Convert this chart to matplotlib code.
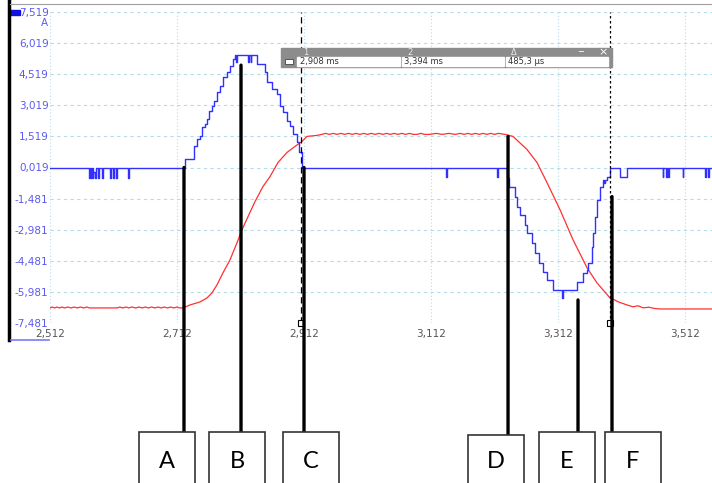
import matplotlib
matplotlib.use("Agg")
import matplotlib.pyplot as plt
from matplotlib.patches import Rectangle, ConnectionPatch
from matplotlib.transforms import blended_transform_factory

# current trace (A) - blue
blue_t = [2.512, 2.5734, 2.5745, 2.5766, 2.5776, 2.5797, 2.5805, 2.5829, 2.5840,
          2.5876, 2.5886, 2.5939, 2.5949, 2.6065, 2.6075, 2.6112, 2.6122, 2.6159,
          2.6169, 2.6348, 2.6358,
          2.7246, 2.7278, 2.7388, 2.7435, 2.7482, 2.7514, 2.7561, 2.7592, 2.7624,
          2.7671, 2.7703, 2.7750, 2.7797, 2.7844, 2.7907, 2.7955, 2.8002, 2.8033,
          2.8050, 2.8060, 2.8240, 2.8250, 2.8280, 2.8290,
          2.8380, 2.8506, 2.8537, 2.8616, 2.8695, 2.8742, 2.8789, 2.8852, 2.8900,
          2.8947, 2.9010, 2.9041, 2.9088,
          3.1356, 3.1366, 3.2159, 3.2169,
          3.2317, 3.2348, 3.2443, 3.2474, 3.2522, 3.2600, 3.2632, 3.2711, 3.2758,
          3.2821, 3.2884, 3.2947, 3.3041, 3.3183, 3.3195, 3.3419, 3.3514, 3.3577,
          3.3593, 3.3656, 3.3671, 3.3703, 3.3734, 3.3781, 3.3829, 3.3845, 3.3860,
          3.3892, 3.3939,
          3.4096, 3.4206, 3.4773, 3.4781, 3.4821, 3.4829, 3.4852, 3.4860, 3.5088,
          3.5096, 3.5435, 3.5443, 3.5482, 3.5490, 3.5545]
blue_i = [0.019, -0.465, 0.019, -0.465, 0.019, -0.465, -0.2, -0.465, 0.019,
          -0.465, 0.019, -0.465, 0.019, -0.465, 0.019, -0.465, 0.019, -0.465,
          0.019, -0.465, 0.019,
          0.406, 0.406, 1.035, 1.374, 1.519, 1.955, 2.100, 2.342, 2.729,
          2.971, 3.213, 3.648, 3.939, 4.374, 4.616, 4.906, 5.245, 5.439,
          5.10, 5.439, 5.10, 5.439, 5.10, 5.439,
          5.003, 4.616, 4.132, 3.793, 3.551, 2.971, 2.680, 2.245, 2.003,
          1.616, 1.229, 0.745, 0.019,
          -0.42, 0.019, -0.42, 0.019,
          -0.465, -0.900, -1.384, -1.868, -2.255, -2.739, -3.126, -3.610, -4.094,
          -4.578, -5.013, -5.400, -5.884, -6.271, -5.884, -5.497, -5.061, -4.916,
          -4.578, -3.803, -3.126, -2.352, -1.529, -0.900, -0.562, -0.75, -0.562,
          -0.416, 0.019,
          -0.46, 0.019, -0.46, 0.019, -0.46, 0.019, -0.46, 0.019, -0.46,
          0.019, -0.46, 0.019, -0.46, 0.019, 0.019]

# second trace - red
red_t = [2.512, 2.516, 2.519, 2.523, 2.527, 2.531, 2.535, 2.540, 2.545, 2.550,
         2.555, 2.560, 2.565, 2.570, 2.574, 2.578, 2.618, 2.622, 2.626, 2.632,
         2.636, 2.641, 2.647, 2.652, 2.657, 2.662, 2.667, 2.672, 2.677, 2.682,
         2.687, 2.692, 2.697, 2.702, 2.707, 2.712, 2.716, 2.7214,
         2.7325, 2.7482, 2.7592, 2.7671, 2.7750, 2.7844, 2.7955, 2.8065, 2.8144,
         2.8238, 2.8348, 2.8474, 2.8585, 2.8711, 2.8852, 2.8978, 2.9088, 2.9167,
         2.9325, 2.940, 2.946, 2.952, 2.958, 2.964, 2.970, 2.976, 2.982, 2.988,
         2.994, 3.000, 3.006, 3.012, 3.018, 3.024, 3.030, 3.036, 3.042, 3.048,
         3.054, 3.060, 3.066, 3.072, 3.078, 3.084, 3.090, 3.096, 3.102, 3.110,
         3.120, 3.130, 3.140, 3.150, 3.158, 3.164, 3.170, 3.176, 3.182, 3.188,
         3.194, 3.200, 3.206, 3.212, 3.218, 3.2285,
         3.2411, 3.2631, 3.2789, 3.2946, 3.3151, 3.3356, 3.3577, 3.3734, 3.3939,
         3.4000, 3.4060, 3.4206, 3.4300, 3.4380, 3.4460, 3.4550, 3.4640, 3.4726,
         3.5545]
red_v = [-6.755, -6.71, -6.755, -6.71, -6.755, -6.71, -6.755, -6.71, -6.755, -6.71,
         -6.755, -6.71, -6.755, -6.71, -6.755, -6.755, -6.755, -6.71, -6.755, -6.71,
         -6.755, -6.71, -6.755, -6.71, -6.755, -6.71, -6.755, -6.71, -6.755, -6.71,
         -6.755, -6.71, -6.755, -6.71, -6.755, -6.71, -6.755, -6.755,
         -6.610, -6.465, -6.272, -6.030, -5.643, -5.062, -4.433, -3.610, -2.981,
         -2.352, -1.626, -0.900, -0.417, 0.261, 0.745, 1.035, 1.277, 1.519,
         1.568, 1.616, 1.665, 1.616, 1.665, 1.616, 1.665, 1.616, 1.665, 1.616,
         1.665, 1.616, 1.665, 1.616, 1.665, 1.616, 1.665, 1.616, 1.665, 1.616,
         1.665, 1.616, 1.665, 1.616, 1.665, 1.616, 1.616, 1.665, 1.616, 1.616,
         1.665, 1.616, 1.665, 1.616, 1.665, 1.616, 1.665, 1.616, 1.665, 1.616,
         1.665, 1.616, 1.665, 1.616, 1.665, 1.616,
         1.519, 0.890, 0.261, -0.707, -2.013, -3.465, -4.820, -5.546, -6.272,
         -6.35, -6.45, -6.610, -6.70, -6.65, -6.75, -6.72, -6.78, -6.804,
         -6.804]

x_ticks = [2.512, 2.712, 2.912, 3.112, 3.312, 3.512]
y_ticks = [-7.481, -5.981, -4.481, -2.981, -1.481, 0.019, 1.519, 3.019, 4.519, 6.019, 7.519]

cursor_t = [2.908, 3.394]
cursor_text = ["2,908 ms", "3,394 ms", "485,3 µs"]

# annotation markers: label, time, value where the line starts
labels = ["A", "B", "C", "D", "E", "F"]
label_t = [2.7230, 2.8128, 2.912, 3.2333, 3.3435, 3.3970]
label_v = [0.019, 4.955, 0.019, 1.519, -6.369, -1.384]
box_left = [139, 209, 283, 468, 539, 605]   # pixels
box_top = [432, 432, 432, 435, 432, 432]

W, H = 712, 483
fig = plt.figure(figsize=(W / 100, H / 100), dpi=100)
fig.patch.set_facecolor("white")

def fx(px):
    return px / W

def fy(py):
    return 1 - py / H

ax = fig.add_axes([fx(50), fy(323), fx(712 - 50), (323 - 12) / H])
ax.set_xlim(2.512, 3.5545)
ax.set_ylim(-7.481, 7.519)
for s in ax.spines.values():
    s.set_visible(False)

ax.set_xticks(x_ticks)
ax.set_xticklabels([f"{v:.3f}".replace(".", ",") for v in x_ticks])
ax.set_yticks(y_ticks)
ax.set_yticklabels([f"{v:.3f}".replace(".", ",") for v in y_ticks])
ax.tick_params(axis="both", length=0, labelsize=7.5)
ax.tick_params(axis="y", pad=1, labelcolor="#5a5af0")
ax.tick_params(axis="x", pad=4, labelcolor="#555555")

ax.grid(axis="y", color="#b5dde8", ls=(0, (3, 3)), lw=0.8)
ax.grid(axis="x", color="#b5dde8", ls=(0, (1, 2)), lw=0.8)
ax.set_axisbelow(True)

ax.plot(red_t, red_v, color="#ff3030", lw=0.9)
ax.plot(blue_t, blue_i, color="#3030ff", lw=1.0, drawstyle="steps-post")

# cursors
ax.axvline(cursor_t[0], color="black", ls=(0, (5, 3)), lw=0.9)
ax.axvline(cursor_t[1], color="black", ls=(0, (2, 2)), lw=0.9)
for t in cursor_t:
    ax.plot(t, -7.481, marker="s", ms=4, mfc="white", mec="black", mew=0.8,
            clip_on=False, zorder=5)

# unit label
fig.text(fx(48), fy(23), "A", color="#5a5af0", fontsize=7.5, ha="right", va="center")

# screen frame bits
fig.add_artist(plt.Line2D([fx(9), fx(9)], [fy(0), fy(340)], color="black", lw=2.5))
fig.add_artist(Rectangle((fx(10), fy(15)), fx(10), 5 / H, color="#1010e0"))
fig.add_artist(plt.Line2D([fx(11), fx(49)], [fy(340), fy(340)], color="#7a7af5", lw=1.2))
fig.add_artist(plt.Line2D([fx(10), fx(712)], [fy(4), fy(4)], color="#a0a0a0", lw=0.8))

# cursor readout box
fig.add_artist(Rectangle((fx(281), fy(67)), fx(331), 19 / H, color="#8c8c8c", zorder=10))
for x0, x1 in [(297, 400), (402, 504), (506, 608)]:
    fig.add_artist(Rectangle((fx(x0), fy(66)), fx(x1 - x0), 9 / H, color="white", zorder=11))
fig.add_artist(Rectangle((fx(285), fy(64)), fx(8), 5 / H, facecolor="white",
                         edgecolor="#444444", lw=0.6, zorder=11))
for x, s in [(303, "1"), (407, "2"), (511, "Δ")]:
    fig.text(fx(x), fy(52.5), s, color="#e8e8e8", fontsize=6, va="center", zorder=12)
fig.text(fx(578), fy(52), "_", color="white", fontsize=7, va="bottom", zorder=12)
fig.text(fx(598), fy(52.5), "×", color="white", fontsize=8, va="center", zorder=12)
for x, s in zip([300, 404, 508], cursor_text):
    fig.text(fx(x), fy(61.5), s, color="#333333", fontsize=6, va="center", zorder=12)

# annotation lines and boxes
trans_b = blended_transform_factory(ax.transData, fig.transFigure)
for lab, t, v, bl, bt in zip(labels, label_t, label_v, box_left, box_top):
    con = ConnectionPatch(xyA=(t, v), coordsA=ax.transData,
                          xyB=(t, fy(bt)), coordsB=trans_b,
                          color="black", lw=2.4)
    fig.add_artist(con)
    fig.add_artist(Rectangle((fx(bl), fy(H + 5)), fx(56), (H + 5 - bt) / H,
                             facecolor="white", edgecolor="#333333", lw=1.2))
    fig.text(fx(bl + 28), fy(461), lab, fontsize=17, family="Lato",
             ha="center", va="center", color="black")

fig.savefig("out.png", dpi=100)
